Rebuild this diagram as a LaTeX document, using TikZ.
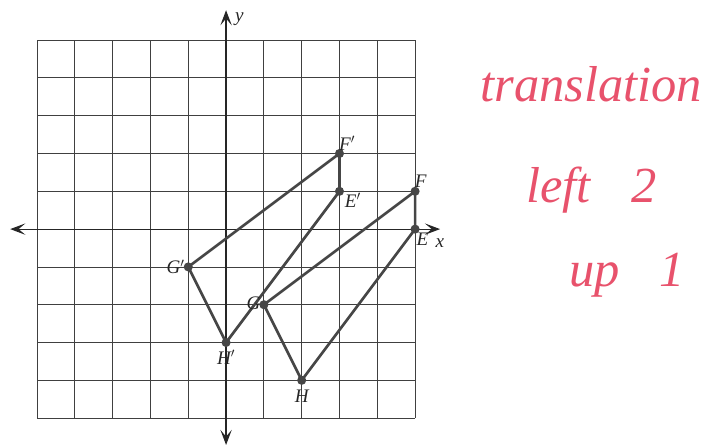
\documentclass[tikz,border=0pt]{standalone}
\usepackage{fontspec}
\setmainfont{Liberation Serif}
\usetikzlibrary{arrows.meta}

\definecolor{ink}{RGB}{70,70,70}
\definecolor{pen}{RGB}{232,82,108}

\begin{document}
\begin{tikzpicture}[
    >={Stealth[length=4mm,width=3mm,inset=1.8mm]},
    grille/.style={draw=black!75, line width=0.6pt},
    axe/.style={black!85, line width=0.9pt, <->},
    poly/.style={draw=ink, line width=2pt, line join=round},
    sommet/.style={circle, fill=ink, inner sep=0pt, minimum size=2.4mm},
    lbl/.style={font=\Large\itshape, text=black!85, inner sep=1pt},
    main/.style={font=\fontsize{38}{44}\selectfont\itshape, text=pen},
  ]
  \useasboundingbox (-5.98,-5.79) rectangle (12.88,6.06);
  % grille
  \draw[grille] (-5,-5) grid (5,5);
  \coordinate (xg) at (-5.71,0);
  \coordinate (xd) at (5.66,0);
  \coordinate (yh) at (0,5.79);
  \coordinate (yb) at (0,-5.71);
  \draw[axe] (xg) -- (xd);
  \draw[axe] (yb) -- (yh);
  \node[lbl, anchor=north west] (lx) at (5.5,-0.22) {x};
  \node[lbl, anchor=west] (ly) at (0.2,5.55) {y};
  % figure initiale
  \coordinate (E) at (5,0);
  \coordinate (F) at (5,1);
  \coordinate (G) at (1,-2);
  \coordinate (H) at (2,-4);
  \draw[poly] (E) -- (F) -- (G) -- (H) -- cycle;
  % image
  \coordinate (Ep) at (3,1);
  \coordinate (Fp) at (3,2);
  \coordinate (Gp) at (-1,-1);
  \coordinate (Hp) at (0,-3);
  \draw[poly] (Ep) -- (Fp) -- (Gp) -- (Hp) -- cycle;
  \foreach \p in {E,F,G,H,Ep,Fp,Gp,Hp}
    \node[sommet] (s\p) at (\p) {};
  \node[lbl, anchor=north west] (lE) at (5.0,-0.05) {E};
  \node[lbl, anchor=south west] (lF) at (4.95,1.05) {F};
  \node[lbl, anchor=east] (lG) at (0.95,-1.95) {G};
  \node[lbl, anchor=north] (lH) at (2,-4.2) {H};
  \node[lbl, anchor=north west] (lEp) at (3.1,1.0) {E$'$};
  \node[lbl, anchor=south west] (lFp) at (2.95,2.05) {F$'$};
  \node[lbl, anchor=east] (lGp) at (-1.05,-1) {G$'$};
  \node[lbl, anchor=north] (lHp) at (0,-3.15) {H$'$};
  % consigne
  \node[main] (trans) at (9.66,3.84) {translation};
  \node[main] (gauche) at (9.66,1.03) {left\hspace{0.8em}2};
  \node[main] (haut) at (10.61,-1.22) {up\hspace{0.8em}1};
\end{tikzpicture}
\end{document}
